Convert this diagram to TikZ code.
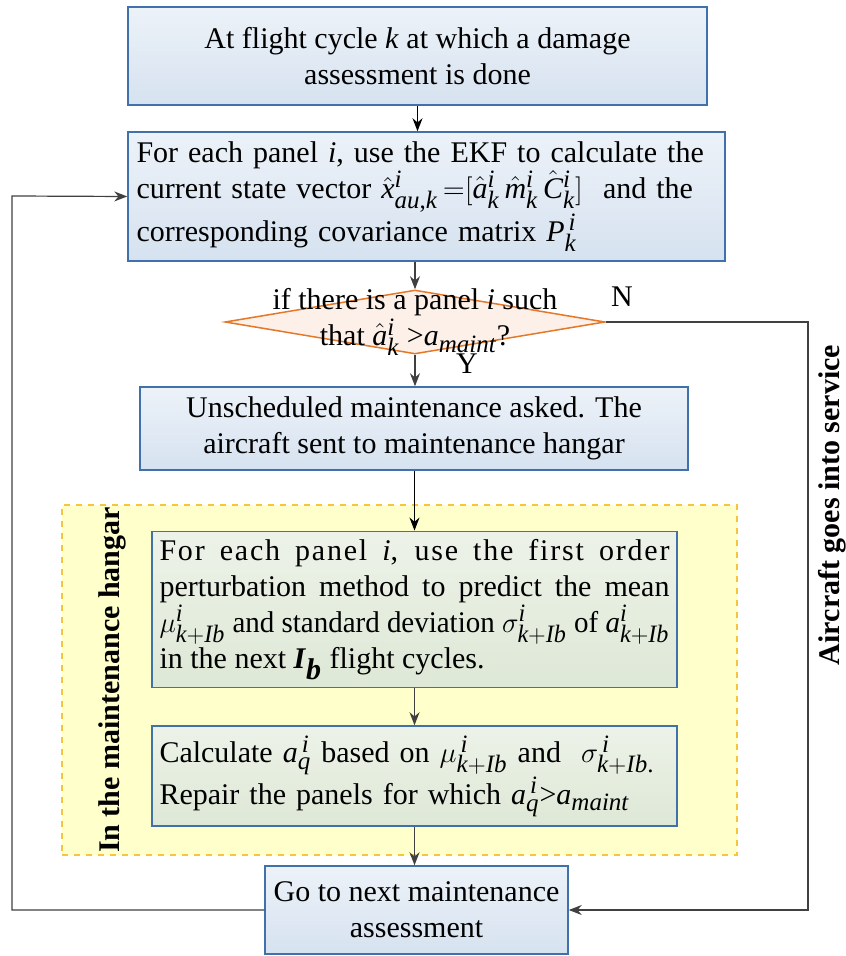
\documentclass[tikz,border=0pt]{standalone}
\usepackage{fontspec}
\setmainfont{Liberation Serif}
\usepackage[italic]{mathastext}
\usetikzlibrary{shapes.geometric,arrows.meta}
\definecolor{boxblue}{RGB}{214,226,240}
\definecolor{boxgreen}{RGB}{222,232,214}
\definecolor{edgeblue}{RGB}{65,113,170}
\definecolor{boxorange}{RGB}{253,240,232}
\definecolor{edgeorange}{RGB}{228,120,40}
\definecolor{hangaryellow}{RGB}{255,255,204}
\definecolor{hangaredge}{RGB}{248,196,60}
\definecolor{linegray}{RGB}{64,64,64}

\begin{document}
\begin{tikzpicture}[x=0.5pt, y=-0.5pt, font=\fontsize{15}{18}\selectfont,
		bluebox/.style={rectangle, top color=boxblue!45, bottom color=boxblue, draw=edgeblue, line width=0.75pt, inner sep=4pt},
		greenbox/.style={rectangle, top color=boxgreen!55, bottom color=boxgreen, draw=edgeblue, line width=0.75pt, inner sep=4pt},
		flow/.style={-{Stealth[length=6.5pt,width=5pt]}, line width=0.6pt, draw=linegray},
		flowblack/.style={flow, draw=black}]
		\useasboundingbox (0,0) rectangle (845,956);
		\node[rectangle, fill=hangaryellow, draw=hangaredge, dashed, line width=0.6pt, minimum width=337.5pt, minimum height=175pt](hangar) at (399.5,680){};
		\node[rotate=90, font=\fontsize{15}{18}\selectfont\bfseries](hangarlabel) at (112,680){In the maintenance hangar};

		\node[bluebox, minimum width=289.5pt, minimum height=49pt, align=center](start) at (417.5,56){At flight cycle \textit{k} at which a damage\\assessment is done};
		\node[bluebox, minimum width=298.5pt, minimum height=64.5pt, text width=290pt, align=left](ekf) at (426.5,196.5){For each panel \textit{i}, use the EKF to calculate the\\current state vector $\hat{x}^{i}_{au,k}\,{=}[\hat{a}^{i}_{k}\,\hat{m}^{i}_{k}\,\hat{C}^{i}_{k}]$\ \ and the\\corresponding covariance matrix $P_{k}^{\,i}$};
		\node[diamond, fill=boxorange, draw=edgeorange, line width=0.75pt, minimum width=190pt, minimum height=32pt, inner sep=0pt](check) at (415,322){};
		\node[align=center, inner sep=0pt](checktext) at (check.center){if there is a panel \textit{i} such\\that $\hat{a}^{i}_{k}$ >$a_{maint}$?};
		\node[bluebox, minimum width=274pt, minimum height=41.5pt, align=center](ask) at (414,428.5){Unscheduled maintenance asked. The\\aircraft sent to maintenance hangar};
		\node[greenbox, minimum width=262.5pt, minimum height=77.5pt, text width=255pt, inner xsep=3.75pt, align=justify](predict) at (414.5,609.5){{\addfontfeature{LetterSpace=6}For each panel \textit{i}, use the first order}\linebreak perturbation method to predict the mean\linebreak \resizebox{\linewidth}{\height}{$\mu^{i}_{k+Ib}$ and standard deviation $\sigma^{i}_{k+Ib}$ of $a^{i}_{k+Ib}$}\\in the next \textbf{\textit{I}$_{\textbf{\textit{b}}}$} flight cycles.};
		\node[greenbox, minimum width=262.5pt, minimum height=50pt, text width=255pt, inner xsep=3.75pt, align=left](repair) at (414.5,776){Calculate $a_{q}^{\,i}$ based on $\mu^{\,i}_{k+Ib}$ and\ \ $\sigma^{\,i}_{k+Ib.}$\\Repair the panels for which $a_{q}^{\,i}$>$a_{maint}$};
		\node[bluebox, minimum width=151.5pt, minimum height=44pt, align=center](next) at (416.5,910){Go to next maintenance\\assessment};

		\node[inner sep=0pt](no) at (622,297){N};
		\node[inner sep=0pt](yes) at (467,364){Y};
		\node[rotate=90, font=\fontsize{15}{18}\selectfont\bfseries](service) at (832,505){Aircraft goes into service};
		\coordinate (loopleft) at (12,196);
		\coordinate (loopright) at (808,322);

		\draw[flowblack] (start.south) -- (ekf.north -| start.south);
		\draw[flow] (ekf.south -| check.north) -- (check.north);
		\draw[flow] (check.south) -- (ask.north -| check.south);
		\draw[flowblack] (ask.south -| predict.north) -- (predict.north);
		\draw[flow] (predict.south) -- (repair.north);
		\draw[flow] (repair.south) -- (next.north -| repair.south);
		\draw[flow] (next.west) -| (loopleft) -- (ekf.west);
		\draw[flow] (check.east) -- (loopright) |- (next.east);
	\end{tikzpicture}
\end{document}
